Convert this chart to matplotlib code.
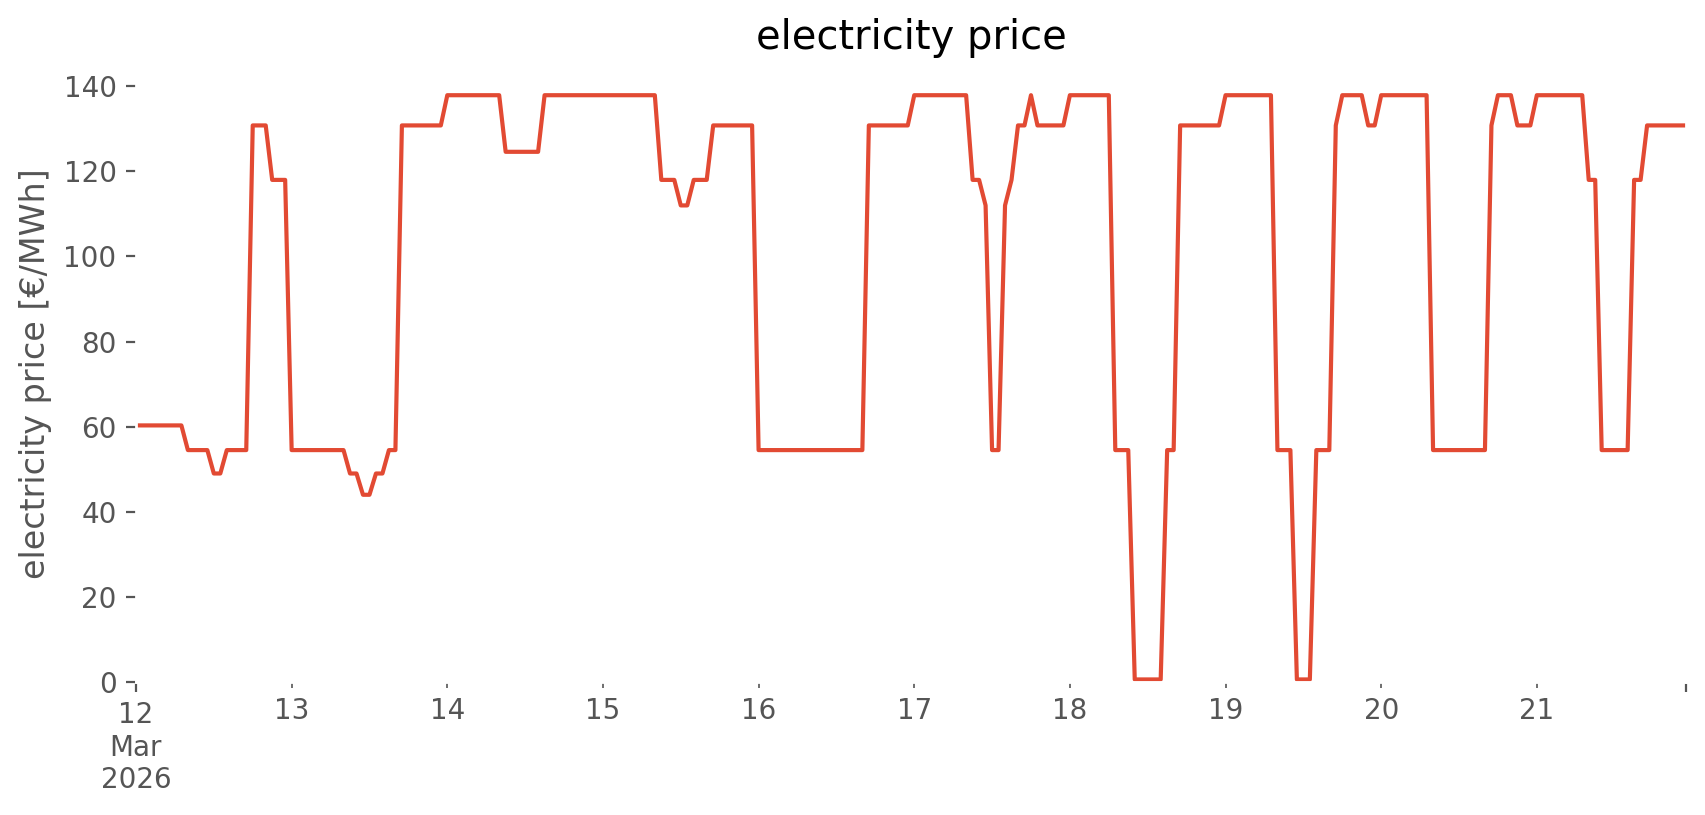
import numpy as np
import pandas as pd
import matplotlib
matplotlib.use("Agg")
import matplotlib.pyplot as plt

# hourly electricity price [EUR/MWh], 12 Mar 2026 00:00 .. 21 Mar 2026 23:00
day_12 = [60.3] * 8 + [54.5] * 4 + [49.0] * 2 + [54.5] * 4 + [130.8] * 3 + [118.0] * 3
day_13 = [54.5] * 9 + [49.0] * 2 + [44.0] * 2 + [49.0] * 2 + [54.5] * 2 + [130.8] * 7
day_14 = [137.9] * 9 + [124.6] * 6 + [137.9] * 9
day_15 = [137.9] * 9 + [118.0] * 3 + [112.0] * 2 + [118.0] * 3 + [130.8] * 7
day_16 = [54.5] * 17 + [130.8] * 7
day_17 = ([137.9] * 9 + [118.0] * 2 + [112.0] + [54.5] * 2 + [112.0] + [118.0]
          + [130.8] * 2 + [137.9] + [130.8] * 5)
day_18 = [137.9] * 7 + [54.5] * 3 + [0.6] * 5 + [54.5] * 2 + [130.8] * 7
day_19 = [137.9] * 8 + [54.5] * 3 + [0.6] * 3 + [54.5] * 3 + [130.8] + [137.9] * 4 + [130.8] * 2
day_20 = [137.9] * 8 + [54.5] * 9 + [130.8] + [137.9] * 3 + [130.8] * 3
day_21 = [137.9] * 8 + [118.0] * 2 + [54.5] * 5 + [118.0] * 2 + [130.8] * 7

prices = (day_12 + day_13 + day_14 + day_15 + day_16
          + day_17 + day_18 + day_19 + day_20 + day_21)
index = pd.date_range("2026-03-12 00:00", periods=len(prices), freq="h")
price = pd.Series(prices, index=index, name="electricity price")

plt.style.use("ggplot")
plt.rcParams["axes.facecolor"] = "white"
plt.rcParams["axes.grid"] = False

fig = plt.figure(figsize=(8.53, 4.075), dpi=200)
ax = fig.add_axes([136 / 1706, 1 - 682 / 815, 1550 / 1706, 616 / 815])

price.plot(ax=ax, color="#E24A33", linewidth=1.5)
ax.set_ylim(bottom=0)
ax.set_title("electricity price")
ax.set_ylabel("electricity price [€/MWh]")
ax.set_xlabel("")

fig.savefig("out.png", dpi=200, facecolor="white")
